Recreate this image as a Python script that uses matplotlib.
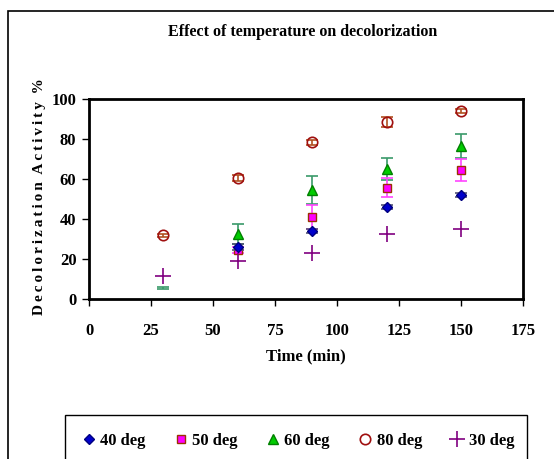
import numpy as np
import matplotlib.pyplot as plt
from matplotlib.patches import Rectangle

# data
time_min = [30, 60, 90, 120, 150]
deg40 = [np.nan, 26.0, 34.2, 45.8, 51.8]
deg40_err = [0, 1.5, 1.0, 1.0, 1.0]
deg50 = [np.nan, 24.5, 41.2, 55.7, 64.5]
deg50_err = [0, 1.5, 6.0, 4.8, 5.7]
deg60 = [5.5, 32.5, 54.5, 64.8, 76.7]
deg60_err = [0.7, 5.0, 7.0, 5.5, 6.0]
deg80 = [31.8, 60.3, 78.3, 88.7, 94.0]
deg80_err = [0.8, 1.5, 1.2, 2.5, 1.2]
deg30 = [11.5, 19.0, 23.0, 32.5, 34.8]

x_ticks = [0, 25, 50, 75, 100, 125, 150, 175]
y_ticks = [0, 20, 40, 60, 80, 100]

plt.rcParams['font.family'] = ['Liberation Serif', 'DejaVu Serif']
plt.rcParams['font.weight'] = 'bold'

W, H = 554, 459
fig = plt.figure(figsize=(W / 100, H / 100), dpi=100)

def px_rect(x0, y0, x1, y1, **kw):
    # rectangle in image pixel coordinates (origin top-left)
    return Rectangle((x0 / W, 1 - y1 / H), (x1 - x0) / W, (y1 - y0) / H,
                     transform=fig.transFigure, fill=False, **kw)

fig.patches.append(px_rect(8, 11, 570, 480, edgecolor='black', linewidth=1.2))
fig.patches.append(px_rect(65, 415, 527, 480, edgecolor='black', linewidth=1.0))

ax = fig.add_axes([89 / W, 1 - 299 / H, (523 - 89) / W, (299 - 99) / H])

x = np.array(time_min)

# 60 deg: error bars everywhere, marker hidden at first point (as in source)
ax.errorbar(x, deg60, yerr=deg60_err, fmt='none', ecolor='#3a9a6a',
            elinewidth=1.2, capsize=4, capthick=1.2)
l60, = ax.plot(x[1:], deg60[1:], linestyle='none', marker='^', markersize=7,
               markerfacecolor='#00cc00', markeredgecolor='#008000')

ax.errorbar(x, deg50, yerr=deg50_err, fmt='none', ecolor='#ff44ff',
            elinewidth=1.2, capsize=4, capthick=1.2)
l50, = ax.plot(x, deg50, linestyle='none', marker='s', markersize=6,
               markerfacecolor='#ff00ff', markeredgecolor='#993300')

ax.errorbar(x, deg40, yerr=deg40_err, fmt='none', ecolor='#555577',
            elinewidth=1.2, capsize=4, capthick=1.2)
l40, = ax.plot(x, deg40, linestyle='none', marker='D', markersize=5,
               markerfacecolor='#0000cc', markeredgecolor='#000080')

ax.errorbar(x, deg80, yerr=deg80_err, fmt='none', ecolor='#b05020',
            elinewidth=1.2, capsize=4, capthick=1.2)
l80, = ax.plot(x, deg80, linestyle='none', marker='o', markersize=7.5,
               markerfacecolor='none', markeredgecolor='#a01010', markeredgewidth=1.2)

l30, = ax.plot(x, deg30, linestyle='none', marker='+', markersize=11,
               markeredgecolor='#800080', markeredgewidth=1.2)

ax.set_xlim(0, 175)
ax.set_ylim(0, 100)
ax.set_xticks(x_ticks)
ax.set_yticks(y_ticks)
for s in ax.spines.values():
    s.set_linewidth(2)
ax.tick_params(direction='out', length=5, width=1, labelsize=12, pad=12)
ax.tick_params(axis='y', pad=4)
for lab in ax.get_xticklabels() + ax.get_yticklabels():
    lab.set_fontweight('bold')

ax.set_xlabel('Time (min)', fontsize=12, fontweight='bold', labelpad=7)

ylabel = '\u2009'.join('Decolorization') + '\u2002' + '\u2009'.join('Activity') + '\u2002%'
fig.text(40 / W, 1 - 197 / H, ylabel, rotation=90, ha='center', va='center',
         fontsize=11, fontweight='bold')

fig.text(303 / W, 1 - 32 / H, 'Effect of temperature on decolorization',
         ha='center', va='center', fontsize=11.5, fontweight='bold')

fig.legend([l40, l50, l60, l80, l30],
           ['40 deg', '50 deg', '60 deg', '80 deg', '30 deg'],
           loc='center', bbox_to_anchor=(298 / W, 1 - 441 / H), ncol=5,
           frameon=False, handlelength=0.8, handletextpad=0.3,
           columnspacing=1.7, prop={'weight': 'bold', 'size': 12})

fig.savefig('out.png', dpi=100)
